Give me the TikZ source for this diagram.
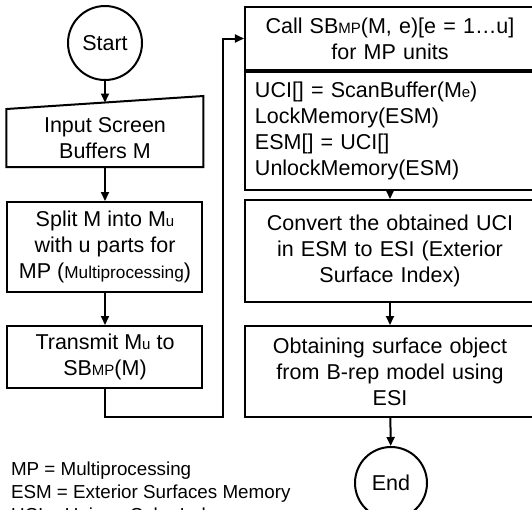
\documentclass[tikz,border=0pt]{standalone}
\usepackage{fontspec}
\setmainfont{Liberation Sans}
\usetikzlibrary{arrows.meta,positioning,calc}
% small index letters sitting on the baseline
\newcommand{\lo}[1]{{\fontsize{7.5}{9}\selectfont #1}}

\begin{document}
\begin{tikzpicture}[x=0.5pt, y=-0.5pt, line width=1pt, >={Triangle[length=4.5pt,width=4pt]},
  font=\fontsize{10.75}{13}\selectfont,
  blk/.style={draw, align=center, minimum width=97.5pt, inner sep=2pt},
  wide/.style={blk, minimum width=145pt, text width=141pt},
  term/.style={draw, circle, minimum size=37pt, inner sep=0pt}]
  \useasboundingbox (0,0) rectangle (532,510);
  \clip (0,0) rectangle (532,510);

  % left column
  \node[term] (start) at (105,43) {Start};
  \node[blk, draw=none, minimum height=28pt] (input) at (105,138) {Input Screen\\ Buffers M};
  \draw (input.south west) -- (input.south east) -- ([yshift=6.5pt]input.north east) -- (input.north west) -- cycle;
  \coordinate (intop) at ($(input.north west)!0.5!([yshift=6.5pt]input.north east)$);
  \node[blk, minimum height=45pt] (split) at (105,247) {Split M into M\lo{u}\\ with u parts for\\ MP ({\fontsize{8.6}{13}\selectfont Multiprocessing})};
  \node[blk, minimum height=31pt] (tx) at (105,357) {Transmit M\lo{u} to\\ SB\lo{MP}(M)};

  % right column
  \node[wide, minimum height=31.5pt] (call) at (390,38.5) {Call SB\lo{MP}(M, e)[e = 1…u]\\ for MP units};
  \node[wide, align=left, inner xsep=5pt, text width=135pt, minimum height=59pt, below=0pt of call] (scan)
    {UCI[] = ScanBuffer(M\lo{e})\\ LockMemory(ESM)\\ ESM[] = UCI[]\\ UnlockMemory(ESM)};
  \node[wide, minimum height=51pt] (conv) at (390,251) {Convert the obtained UCI\\ in ESM to ESI (Exterior\\ Surface Index)};
  \node[wide, minimum height=45.5pt] (obt) at (390,371.5) {Obtaining surface object\\ from B-rep model using\\ ESI};
  \node[term, minimum size=36pt] (end) at (391,483) {End};

  \node[anchor=north west, align=left, inner sep=0pt, font=\fontsize{9.4}{11.5}\selectfont] (key) at (10,461)
    {MP = Multiprocessing\\ ESM = Exterior Surfaces Memory\\ UCI = Unique Color Index};

  \draw[->] (start) -- (intop);
  \draw[->] (input) -- (split);
  \draw[->] (split) -- (tx);
  \draw[->] (tx.south) -- ++(0,28) -| ([xshift=-10.5pt]call.west) -- (call.west);
  \draw[->] (scan) -- (conv);
  \draw[->] (conv) -- (obt);
  \draw[->] (obt) -- (end);
\end{tikzpicture}
\end{document}
